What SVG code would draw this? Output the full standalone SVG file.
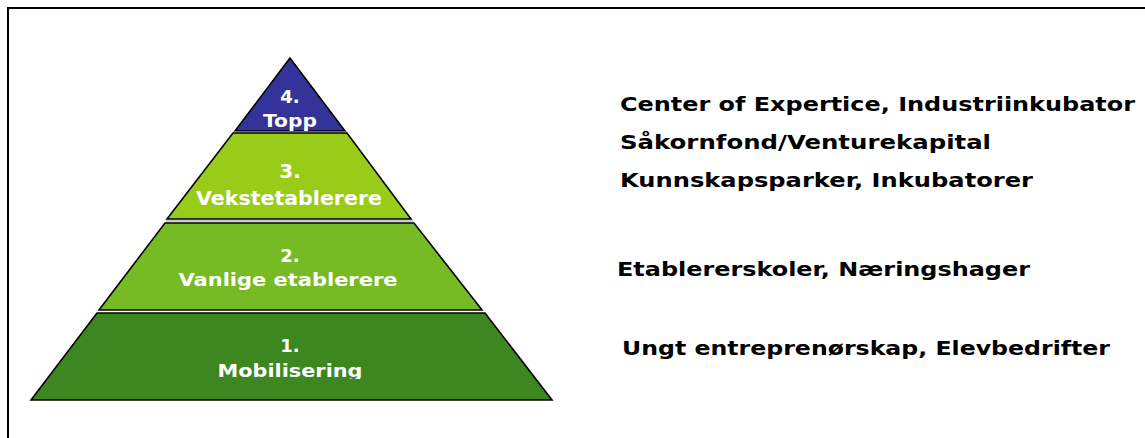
<svg xmlns="http://www.w3.org/2000/svg" width="1145" height="438" viewBox="0 0 1145 438">
<style>
.layer{stroke:#000;stroke-width:1.6;stroke-linejoin:miter}
.sep{stroke:#9a9a9a;stroke-width:1}
.lbl{font-family:"DejaVu Sans","Liberation Sans",sans-serif;font-weight:bold;font-size:18px;fill:#fff;text-anchor:middle}
.big{font-size:20px}
.side{font-family:"DejaVu Sans","Liberation Sans",sans-serif;font-weight:bold;font-size:19px;fill:#000}
</style>
<defs>
<clipPath id="clip1"><rect x="0" y="300" width="600" height="79"/></clipPath>
</defs>
<rect width="1145" height="438" fill="#fff"/>
<g id="frame">
<path d="M8 438 V8 H1145" fill="none" stroke="#000" stroke-width="2"/>
</g>
<g id="connectors"></g>
<g id="layer4">
<polygon class="layer" points="290,58 235,131 345,131" fill="#333399"/>
<text class="lbl" x="290" y="103">4.</text>
<text class="lbl" x="290" y="127" textLength="54" lengthAdjust="spacingAndGlyphs">Topp</text>
</g>
<g id="layer3">
<line class="sep" x1="233" y1="132" x2="347" y2="132"/>
<polygon class="layer" points="233,133 347,133 411,219 167,219" fill="#99CC19"/>
<text class="lbl big" x="290" y="178">3.</text>
<text class="lbl big" x="289" y="205" textLength="186" lengthAdjust="spacingAndGlyphs">Vekstetablerere</text>
</g>
<g id="layer2">
<line class="sep" x1="166" y1="221" x2="413" y2="221"/>
<polygon class="layer" points="165,223 414,223 482,310 99,310" fill="#76BB23"/>
<text class="lbl" x="290" y="262">2.</text>
<text class="lbl" x="288" y="286" textLength="219" lengthAdjust="spacingAndGlyphs">Vanlige etablerere</text>
</g>
<g id="layer1">
<polygon class="layer" points="97,313 485,313 552,400 31,400" fill="#3D8721"/>
<text class="lbl" x="290" y="352">1.</text>
<text class="lbl" x="290" y="377" textLength="145" lengthAdjust="spacingAndGlyphs" clip-path="url(#clip1)">Mobilisering</text>
</g>
<g id="labels">
<text class="side" x="620" y="111" textLength="515" lengthAdjust="spacingAndGlyphs">Center of Expertice, Industriinkubator</text>
<text class="side" x="620" y="149" textLength="371" lengthAdjust="spacingAndGlyphs">Såkornfond/Venturekapital</text>
<text class="side" x="620" y="187" textLength="413" lengthAdjust="spacingAndGlyphs">Kunnskapsparker, Inkubatorer</text>
<text class="side" x="617" y="276" textLength="413" lengthAdjust="spacingAndGlyphs">Etablererskoler, Næringshager</text>
<text class="side" x="622" y="355" textLength="488" lengthAdjust="spacingAndGlyphs">Ungt entreprenørskap, Elevbedrifter</text>
</g>
</svg>
